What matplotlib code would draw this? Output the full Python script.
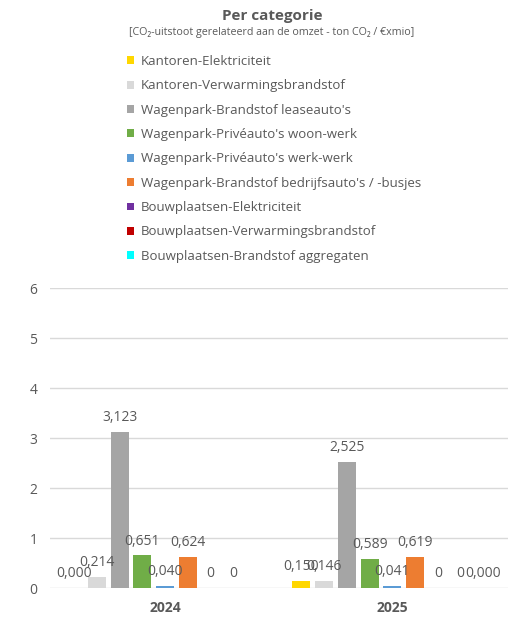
import matplotlib.pyplot as plt
import numpy as np

plt.rcParams['font.family'] = ['Open Sans', 'DejaVu Sans']

years = ['2024', '2025']
series = [
    'Kantoren-Elektriciteit',
    'Kantoren-Verwarmingsbrandstof',
    "Wagenpark-Brandstof leaseauto's",
    "Wagenpark-Privéauto's woon-werk",
    "Wagenpark-Privéauto's werk-werk",
    "Wagenpark-Brandstof bedrijfsauto's / -busjes",
    'Bouwplaatsen-Elektriciteit',
    'Bouwplaatsen-Verwarmingsbrandstof',
    'Bouwplaatsen-Brandstof aggregaten',
]
colors = ['#FFD700', '#D9D9D9', '#A5A5A5', '#70AD47', '#5B9BD5',
          '#ED7D31', '#7030A0', '#C00000', '#00FFFF']
values_2024 = [0.000, 0.214, 3.123, 0.651, 0.040, 0.624, 0, 0, 0]
values_2025 = [0.150, 0.146, 2.525, 0.589, 0.041, 0.619, 0, 0, 0]
labels_2024 = ['0,000', '0,214', '3,123', '0,651', '0,040', '0,624', '0', '0', '']
labels_2025 = ['0,150', '0,146', '2,525', '0,589', '0,041', '0,619', '0', '0', '0,000']

txt = '#595959'
fig = plt.figure(figsize=(5.25, 6.21), dpi=100)
ax = fig.add_axes([0.095, 0.0531, 0.873, 0.4831])

x = np.arange(len(years))
step = 0.1
width = 0.079
for i, name in enumerate(series):
    vals = [values_2024[i], values_2025[i]]
    labs = [labels_2024[i], labels_2025[i]]
    b = ax.bar(x + (i - 4) * step, vals, width, color=colors[i], label=name, zorder=3)
    for rect, lab in zip(b, labs):
        if lab:
            ax.annotate(lab, (rect.get_x() + rect.get_width() / 2, rect.get_height()),
                        xytext=(0, 5), textcoords='offset points', ha='center',
                        va='bottom', fontsize=10, color=txt, zorder=4)

ax.set_ylim(0, 6)
ax.set_xlim(-0.507, 1.51)
ax.set_yticks(range(7))
ax.yaxis.grid(True, color='#D9D9D9', linewidth=1)
ax.set_axisbelow(True)
for s in ax.spines.values():
    s.set_visible(False)
ax.tick_params(length=0, labelsize=10, colors=txt)
ax.tick_params(axis='y', pad=9)
ax.tick_params(axis='x', pad=9)
ax.set_xticks(x)
ax.set_xticklabels(years, fontweight='bold')

fig.text(0.518, 0.974, 'Per categorie', ha='center', va='center',
         fontsize=11, fontweight='bold', color=txt)
fig.text(0.518, 0.947, '[CO₂-uitstoot gerelateerd aan de omzet - ton CO₂ / €xmio]',
         ha='center', va='center', fontsize=7.7, color=txt)

leg = fig.legend(loc='upper left', bbox_to_anchor=(0.2419, 0.9114), frameon=False,
                 fontsize=9.5, handlelength=0.53, handleheight=0.53,
                 handletextpad=0.53, labelspacing=0.86, borderpad=0,
                 borderaxespad=0)
for t in leg.get_texts():
    t.set_color(txt)

fig.savefig('out.png', dpi=100)
